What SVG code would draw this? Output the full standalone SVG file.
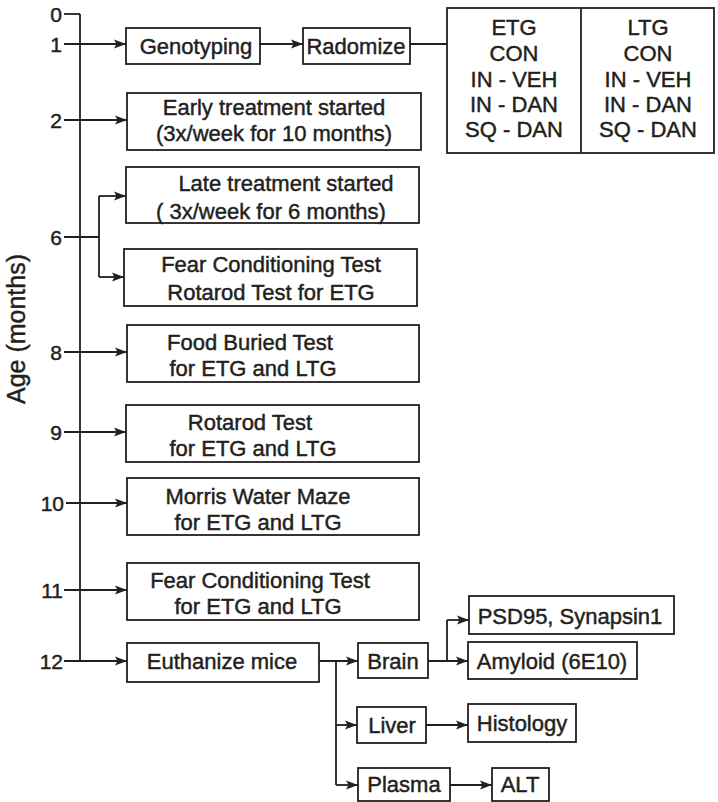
<svg xmlns="http://www.w3.org/2000/svg" width="718" height="802" viewBox="0 0 718 802">
<style>
.box{fill:#fff;stroke:#231f20;stroke-width:1.8}
.ln{fill:none;stroke:#231f20;stroke-width:1.8}
.arr{marker-end:url(#ah)}
text{font-family:"Liberation Sans",Arial,Helvetica,sans-serif;fill:#231f20;stroke:#231f20;stroke-width:0.45}
.t{font-size:22px;text-anchor:middle}
.n{font-size:21px;text-anchor:end}
</style>
<defs>
<marker id="ah" markerUnits="userSpaceOnUse" markerWidth="13" markerHeight="11" refX="12" refY="5.5" orient="auto">
<path d="M0,1 L12,5.5 L0,10 L2.5,5.5 Z" fill="#231f20"/>
</marker>
</defs>
<rect width="718" height="802" fill="#fff"/>
<g id="axis">
<text transform="translate(25,329) rotate(-90)" font-size="25" text-anchor="middle">Age (months)</text>
<text class="n" x="62" y="22">0</text>
<text class="n" x="62" y="52">1</text>
<text class="n" x="62" y="128">2</text>
<text class="n" x="62" y="245">6</text>
<text class="n" x="62" y="360">8</text>
<text class="n" x="62" y="440">9</text>
<text class="n" x="64" y="511">10</text>
<text class="n" x="63" y="598">11</text>
<text class="n" x="63" y="669">12</text>
</g>
<g id="connectors">
<path class="ln" d="M80,14 V661"/>
<path class="ln" d="M64,14 H80"/>
<path class="ln arr" d="M64,44 H126"/>
<path class="ln arr" d="M260,44 H303"/>
<path class="ln" d="M410,44 H447"/>
<path class="ln arr" d="M64,120 H127"/>
<path class="ln" d="M64,237 H99"/>
<path class="ln arr" d="M99,196 H126"/>
<path class="ln arr" d="M99,277 H124"/>
<path class="ln" d="M99,196 V277"/>
<path class="ln arr" d="M64,352 H127"/>
<path class="ln arr" d="M64,432 H126"/>
<path class="ln arr" d="M66,503 H127"/>
<path class="ln arr" d="M64,590 H127"/>
<path class="ln arr" d="M64,661 H127"/>
<path class="ln arr" d="M319,661 H358"/>
<path class="ln" d="M336,661 V785"/>
<path class="ln arr" d="M336,725 H357"/>
<path class="ln arr" d="M336,785 H358"/>
<path class="ln arr" d="M428,661 H468"/>
<path class="ln" d="M447,661 V620"/>
<path class="ln arr" d="M447,620 H469"/>
<path class="ln arr" d="M426,725 H468"/>
<path class="ln arr" d="M450,785 H492"/>
</g>
<g id="genotyping"><rect class="box" x="126" y="28" width="134" height="36"/><text class="t" x="196" y="54">Genotyping</text></g>
<g id="radomize"><rect class="box" x="303" y="28" width="107" height="36"/><text class="t" x="356" y="54">Radomize</text></g>
<g id="groups">
<rect class="box" x="447" y="8" width="267" height="145"/>
<path class="ln" d="M581,8 V153"/>
<text class="t" x="514" y="35">ETG</text>
<text class="t" x="514" y="61">CON</text>
<text class="t" x="514" y="87">IN - VEH</text>
<text class="t" x="514" y="112">IN - DAN</text>
<text class="t" x="514" y="137">SQ - DAN</text>
<text class="t" x="648" y="35">LTG</text>
<text class="t" x="648" y="61">CON</text>
<text class="t" x="648" y="87">IN - VEH</text>
<text class="t" x="648" y="112">IN - DAN</text>
<text class="t" x="648" y="137">SQ - DAN</text>
</g>
<g id="early"><rect class="box" x="127" y="93" width="294" height="57"/><text class="t" x="274" y="115">Early treatment started</text><text class="t" x="274" y="141">(3x/week for 10 months)</text></g>
<g id="late"><rect class="box" x="126" y="167" width="293" height="56"/><text class="t" x="286" y="191">Late treatment started</text><text class="t" x="271" y="219">( 3x/week for 6 months)</text></g>
<g id="fear6"><rect class="box" x="124" y="249" width="293" height="57"/><text class="t" x="271" y="272">Fear Conditioning Test</text><text class="t" x="271" y="300">Rotarod Test for ETG</text></g>
<g id="food"><rect class="box" x="127" y="325" width="292" height="57"/><text class="t" x="250" y="350">Food Buried Test</text><text class="t" x="253" y="376">for ETG and LTG</text></g>
<g id="rotarod"><rect class="box" x="126" y="405" width="293" height="57"/><text class="t" x="250" y="430">Rotarod Test</text><text class="t" x="253" y="456">for ETG and LTG</text></g>
<g id="morris"><rect class="box" x="127" y="478" width="292" height="57"/><text class="t" x="258" y="504">Morris Water Maze</text><text class="t" x="258" y="530">for ETG and LTG</text></g>
<g id="fear11"><rect class="box" x="127" y="563" width="292" height="57"/><text class="t" x="260" y="588">Fear Conditioning Test</text><text class="t" x="258" y="614">for ETG and LTG</text></g>
<g id="euthanize"><rect class="box" x="127" y="643" width="192" height="39"/><text class="t" x="222" y="669">Euthanize mice</text></g>
<g id="brain"><rect class="box" x="358" y="643" width="70" height="35"/><text class="t" x="393" y="669">Brain</text></g>
<g id="psd"><rect class="box" x="469" y="596" width="205" height="38"/><text class="t" x="570" y="624">PSD95, Synapsin1</text></g>
<g id="amyloid"><rect class="box" x="468" y="642" width="169" height="37"/><text class="t" x="552" y="669">Amyloid (6E10)</text></g>
<g id="liver"><rect class="box" x="357" y="707" width="69" height="36"/><text class="t" x="392" y="733">Liver</text></g>
<g id="histology"><rect class="box" x="468" y="704" width="108" height="38"/><text class="t" x="522" y="731">Histology</text></g>
<g id="plasma"><rect class="box" x="358" y="768" width="92" height="33"/><text class="t" x="404" y="792">Plasma</text></g>
<g id="alt"><rect class="box" x="492" y="768" width="57" height="33"/><text class="t" x="520" y="792">ALT</text></g>
</svg>
